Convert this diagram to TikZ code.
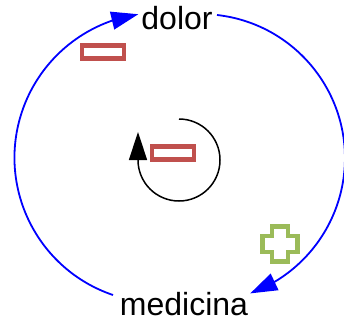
\documentclass[tikz,border=0pt]{standalone}
\usepackage{fontspec}
\setmainfont{Liberation Sans}
\usetikzlibrary{arrows.meta,bending}
\definecolor{polred}{RGB}{192,80,77}
\definecolor{polgreen}{RGB}{155,187,89}
\tikzset{
  varlabel/.style={font=\fontsize{32}{36}\selectfont, inner sep=0pt, anchor=base},
  flow/.style={draw=blue, line width=1.8pt, -{Triangle[length=27pt,width=18pt]}},
  loopflow/.style={draw=black, line width=1.5pt, -{Triangle[length=28pt,width=18pt]}},
  minussign/.style={draw=polred, line width=4.5pt, minimum width=42pt, minimum height=13pt, inner sep=0pt, fill=white},
  plussign/.style={draw=polgreen, line width=4.5pt, line join=miter}
}
\begin{document}
\begin{tikzpicture}[x=1pt,y=1pt]
\useasboundingbox (0,0) rectangle (344,-326);
\clip (0,0) rectangle (344,-326);
% variables
\node[varlabel] (dolor) at (177,-30) {dolor};
\node[varlabel] (medicina) at (184,-315) {medicina};
% connector end points
\coordinate (medL) at (113,-295);
\coordinate (dolR) at (217,-15);
% links
\draw[flow] (medL) arc[start angle=251.3, end angle=98.4, radius=145];
\draw[flow] (dolR) arc[start angle=83.6, end angle=-70, radius=144];
% polarities
\node[minussign] (pol1) at (103,-52) {};
\coordinate (pol2) at (280,-244);
\draw[plussign] (pol2) ++(-8,17.5) -- ++(16,0) -- ++(0,-9.5) -- ++(9.5,0) -- ++(0,-16) -- ++(-9.5,0) -- ++(0,-9.5) -- ++(-16,0) -- ++(0,9.5) -- ++(-9.5,0) -- ++(0,16) -- ++(9.5,0) -- cycle;
% loop indicator
\coordinate (loopc) at (179,-160);
\draw[loopflow] (loopc) ++(0,41) arc[start angle=90, end angle=-180, radius=41] -- ++(0,28);
\node[minussign] (pol3) at (173,-153) {};
\end{tikzpicture}
\end{document}
